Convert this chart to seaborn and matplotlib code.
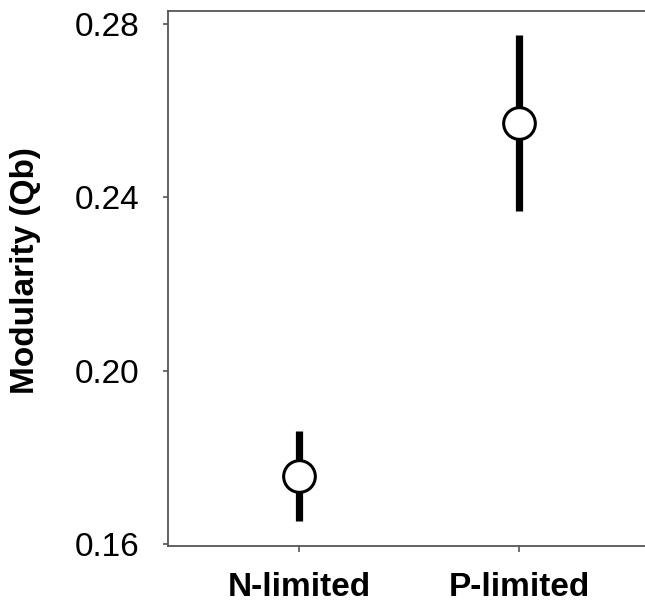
import matplotlib
matplotlib.use("Agg")
import matplotlib.pyplot as plt
import seaborn as sns
import numpy as np
import pandas as pd

# data
categories = ["N-limited", "P-limited"]
means = [0.1757, 0.2572]
lower = [0.1652, 0.2368]
upper = [0.1861, 0.2775]
yticks = [0.16, 0.20, 0.24, 0.28]
ytick_labels = ["0.16", "0.20", "0.24", "0.28"]

sns.set_style("white")
plt.rcParams['font.family'] = ['Liberation Sans', 'DejaVu Sans']
plt.rcParams['text.color'] = 'black'
plt.rcParams['xtick.labelcolor'] = 'black'
plt.rcParams['ytick.labelcolor'] = 'black'
plt.rcParams['axes.labelcolor'] = 'black'

rows = []
for c, lo, m, hi in zip(categories, lower, means, upper):
    for v in (lo, m, hi):
        rows.append({"group": c, "value": v})
df = pd.DataFrame(rows)
dfm = pd.DataFrame({"group": categories, "value": means})

fig = plt.figure(figsize=(6.45, 6.07), dpi=100)
ax = fig.add_axes([0.26, 0.101, 0.7504, 0.881])

sns.pointplot(data=df, x="group", y="value", order=categories,
              estimator=np.median, errorbar=lambda x: (x.min(), x.max()),
              color="black", markers="", linestyles="none",
              err_kws={"linewidth": 5.2, "solid_capstyle": "butt"}, ax=ax)
sns.scatterplot(data=dfm, x="group", y="value", s=520, color="white",
                edgecolor="black", linewidth=2.2, zorder=5, ax=ax, legend=False)

ax.set_xlim(-0.596, 1.601)
ax.set_ylim(0.1596, 0.283)
ax.set_yticks(yticks)
ax.set_yticklabels(ytick_labels, fontsize=24, color="black")
ax.set_xticks(range(len(categories)))
ax.set_xticklabels(categories, fontsize=24, fontweight="bold", color="black")
ax.set_xlabel("")
ax.set_ylabel("Modularity (Qb)", fontsize=24, fontweight="bold", color="black")
ax.yaxis.set_label_coords(-0.262, 0.515)

for s in ["left", "bottom", "top"]:
    ax.spines[s].set_visible(True)
    ax.spines[s].set_color("#555555")
    ax.spines[s].set_linewidth(1.3)
ax.spines["right"].set_visible(False)
ax.tick_params(axis="y", direction="out", length=3.8, width=1.2, color="#555555", pad=16.5, left=True)
ax.tick_params(axis="x", direction="out", length=4.3, width=1.2, color="#555555", pad=15, bottom=True)

fig.savefig("out.png", dpi=100)
